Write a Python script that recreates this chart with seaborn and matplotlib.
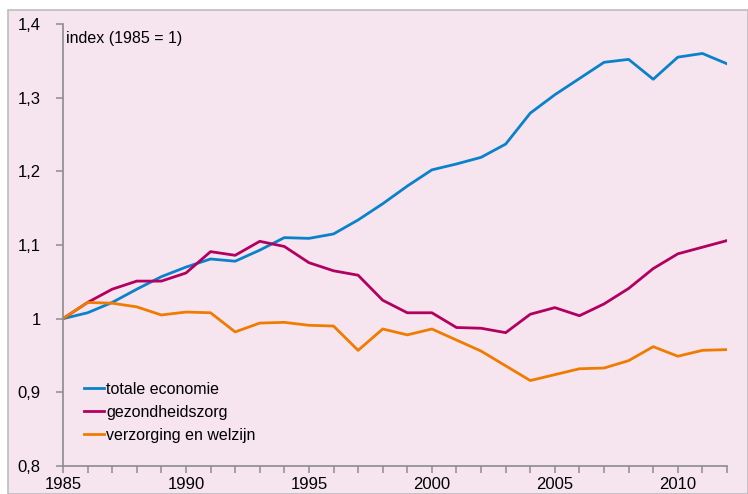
import matplotlib
matplotlib.use("Agg")
import matplotlib.pyplot as plt
from matplotlib.patches import Rectangle
from matplotlib.ticker import FuncFormatter, MultipleLocator
import pandas as pd
import seaborn as sns

jaren = list(range(1985, 2013))

totale_economie = [1.000, 1.008, 1.022, 1.040, 1.057, 1.070, 1.081, 1.078, 1.093, 1.110,
                   1.109, 1.115, 1.134, 1.156, 1.180, 1.202, 1.210, 1.219, 1.237, 1.279,
                   1.304, 1.326, 1.348, 1.352, 1.325, 1.355, 1.360, 1.346]
gezondheidszorg = [1.000, 1.022, 1.040, 1.051, 1.051, 1.062, 1.091, 1.086, 1.105, 1.098,
                   1.076, 1.065, 1.059, 1.025, 1.008, 1.008, 0.988, 0.987, 0.981, 1.006,
                   1.015, 1.004, 1.020, 1.041, 1.068, 1.088, 1.097, 1.106]
verzorging = [1.000, 1.022, 1.021, 1.016, 1.005, 1.009, 1.008, 0.982, 0.994, 0.995,
              0.991, 0.990, 0.957, 0.986, 0.978, 0.986, 0.971, 0.956, 0.936, 0.916,
              0.924, 0.932, 0.933, 0.943, 0.962, 0.949, 0.957, 0.958]

reeksen = ["totale economie", "gezondheidszorg", "verzorging en welzijn"]
kleuren = ["#0a82cb", "#b1005f", "#ef7c00"]

df = pd.DataFrame({
    "jaar": jaren * 3,
    "index": totale_economie + gezondheidszorg + verzorging,
    "reeks": [reeksen[0]] * 28 + [reeksen[1]] * 28 + [reeksen[2]] * 28,
})

roze = "#f6e4ef"
plt.rcParams["font.family"] = ["Liberation Sans", "DejaVu Sans"]

fig = plt.figure(figsize=(7.48, 4.94), dpi=100, facecolor="white")
# roze kader om de figuur
fig.patches.append(Rectangle((8 / 748, 0), 740 / 748, 484 / 494, transform=fig.transFigure,
                             facecolor=roze, edgecolor="#bdbdbd", linewidth=1.2, zorder=-5))
ax = fig.add_axes([63 / 748, 28 / 494, 664 / 748, 442 / 494])
ax.set_facecolor(roze)

sns.lineplot(data=df, x="jaar", y="index", hue="reeks", palette=kleuren,
             linewidth=2.0, ax=ax, legend=False)

ax.set_xlim(1985, 2012)
ax.set_ylim(0.8, 1.4)
ax.set_xlabel("")
ax.set_ylabel("")

ax.xaxis.set_major_locator(MultipleLocator(5))
ax.xaxis.set_minor_locator(MultipleLocator(1))
ax.yaxis.set_major_locator(MultipleLocator(0.1))
ax.yaxis.set_major_formatter(FuncFormatter(lambda v, p: f"{v:.1f}".rstrip("0").rstrip(".").replace(".", ",")
                                           if round(v, 1) != 1 else "1"))

for s in ["top", "right"]:
    ax.spines[s].set_visible(False)
for s in ["left", "bottom"]:
    ax.spines[s].set_color("#8c8c8c")
    ax.spines[s].set_linewidth(1.2)

ax.tick_params(axis="both", which="both", direction="out", color="#8c8c8c", length=5,
               width=1.1, labelsize=12, labelcolor="black")
ax.tick_params(axis="y", pad=11)
ax.tick_params(axis="x", pad=3)

ax.text(0.005, 0.985, "index (1985 = 1)", transform=ax.transAxes, fontsize=11.5,
        ha="left", va="top")

handles = [plt.Line2D([], [], color=c, linewidth=2.0) for c in kleuren]
ax.legend(handles, reeksen, loc="upper left", bbox_to_anchor=(0.031, 0.19), frameon=False,
          fontsize=11.5, handlelength=1.3, handletextpad=0.12, labelspacing=0.5,
          borderpad=0, borderaxespad=0)

fig.savefig("out.png", dpi=100, facecolor="white")
